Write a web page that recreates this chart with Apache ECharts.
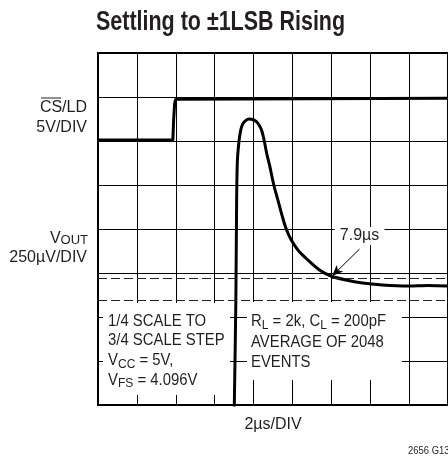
<!DOCTYPE html>
<html><head><meta charset="utf-8">
<script src="https://cdn.jsdelivr.net/npm/echarts@6/dist/echarts.min.js"></script>
<style>html,body{margin:0;padding:0;background:#fff}#c{width:448px;height:462px}</style>
</head><body><div id="c"></div>
<script>
// ---- text ----
const titleText = 'Settling to ±1LSB Rising';
const xAxisName = '2µs/DIV';
const figureId = '2656 G13';
const settleLabel = '7.9µs';

// ---- axes (scope divisions) ----
const xMinUs = 0, xMaxUs = 18, xStepUs = 2;   // 2µs/DIV, 9 divisions
const divCount = 8;                           // vertical divisions

// ---- CS/LD trace (volts, 5V/DIV) ----
const csVoltsPerDiv = 5;
const csZeroDiv = 6;
const csTimeUs = [0, 3.85, 3.89, 3.94, 3.99, 4.09, 18];
const csVolts  = [0.1, 0.1, 2.4, 4.2, 4.75, 4.85, 4.85];

// ---- VOUT trace (µV relative to final value, 250µV/DIV) ----
const voutMicroVPerDiv = 250;
const voutZeroDiv = 2.636;
const voutTimeUs = [6.93, 7.01, 7.09, 7.13, 7.17, 7.26, 7.34, 7.44, 7.59, 7.77, 7.95, 8.13, 8.28, 8.41, 8.54, 8.67, 8.82, 9.04, 9.25, 9.46, 9.68, 9.94, 10.28, 10.79, 11.39, 11.98, 12.75, 13.60, 14.62, 15.95, 16.98, 18.0];
const voutMicroV = [-1199, -659, -62, 506, 733, 847, 903, 937, 957, 966, 963, 952, 932, 903, 847, 773, 705, 591, 506, 420, 341, 278, 222, 165, 108, 74, 51, 34, 23, 17, 20, 17];

// ---- ±1LSB band and settling annotation ----
const lsbBandMicroV = [-62.5, 62.5];
const settleArrowFrom = [13.45, 227];
const settleArrowTo = [12.04, 74];
const settleLabelAt = [13.45, 301];

const FONT = '"Liberation Sans", Arial, sans-serif';
const INK = '#231f20';

const chart = echarts.init(document.getElementById('c'), null, {renderer: 'canvas'});

const subRich = {
  s: {fontSize: 13, fontFamily: FONT, color: INK, verticalAlign: 'bottom', lineHeight: 11}
};

function boxText(x, y, text, lh) {
  return {
    type: 'text', x: x, y: y, z: 5, scaleX: 0.93,
    style: {
      text: text, fontSize: 16, fontFamily: FONT, fill: INK,
      align: 'left', textAlign: 'left', verticalAlign: 'top', textVerticalAlign: 'top',
      lineHeight: lh, rich: subRich
    }
  };
}
function labelText(x, y, text) {
  return {
    type: 'text', x: x, y: y, z: 5,
    style: {
      text: text, fontSize: 16, fontFamily: FONT, fill: INK,
      align: 'right', textAlign: 'right', verticalAlign: 'middle', textVerticalAlign: 'middle',
      rich: subRich
    }
  };
}

const option = {
  animation: false,
  backgroundColor: '#fff',
  grid: {left: 98, top: 53, width: 352, height: 352, show: true, borderColor: '#000', borderWidth: 2, backgroundColor: 'transparent'},
  xAxis: {
    type: 'value', min: xMinUs, max: xMaxUs, interval: xStepUs,
    axisLine: {show: false}, axisTick: {show: false}, axisLabel: {show: false},
    splitLine: {show: true, lineStyle: {color: '#000', width: 1}},
    name: xAxisName, nameLocation: 'middle', nameGap: 12,
    nameTextStyle: {fontSize: 16, fontFamily: FONT, color: INK}
  },
  yAxis: [
    {type: 'value', min: 0, max: divCount, interval: 1,
     axisLine: {show: false}, axisTick: {show: false}, axisLabel: {show: false},
     splitLine: {show: true, lineStyle: {color: '#000', width: 1}}},
    {type: 'value', show: false, splitLine: {show: false},
     min: -voutZeroDiv * voutMicroVPerDiv, max: (divCount - voutZeroDiv) * voutMicroVPerDiv},
    {type: 'value', show: false, splitLine: {show: false},
     min: -csZeroDiv * csVoltsPerDiv, max: (divCount - csZeroDiv) * csVoltsPerDiv}
  ],
  series: [
    {
      name: 'CS/LD', type: 'line', yAxisIndex: 2, showSymbol: false, symbol: 'none', z: 3,
      data: csTimeUs.map((t, i) => [t, csVolts[i]]),
      lineStyle: {color: '#000', width: 3}
    },
    {
      name: 'VOUT', type: 'line', yAxisIndex: 1, showSymbol: false, symbol: 'none', smooth: 0.3, z: 3,
      data: voutTimeUs.map((t, i) => [t, voutMicroV[i]]),
      lineStyle: {color: '#000', width: 3},
      markLine: {
        silent: true, animation: false, symbol: ['none', 'none'],
        label: {show: false}, emphasis: {disabled: true},
        lineStyle: {type: 'solid', color: '#000', width: 1},
        data: lsbBandMicroV.map(v => ({yAxis: v, lineStyle: {type: [9, 4], color: '#222', width: 1}}))
          .concat([[
            {coord: settleArrowFrom, symbol: 'none', lineStyle: {type: 'solid', color: '#000', width: 1}},
            {coord: settleArrowTo, symbol: 'arrow', symbolSize: [7, 11]}
          ]])
      },
      markPoint: {
        silent: true, symbol: 'rect', symbolSize: [50, 18],
        itemStyle: {color: '#fff'},
        label: {show: true, position: 'inside', formatter: settleLabel, color: INK, fontSize: 16, fontFamily: FONT},
        data: [{coord: settleLabelAt}]
      }
    }
  ],
  graphic: [
    // title (condensed bold)
    {type: 'text', x: 96, y: 22.5, z: 5, scaleX: 0.795,
     style: {text: titleText, fontSize: 27, fontWeight: 'bold', fontFamily: FONT, fill: INK,
             align: 'left', textAlign: 'left', verticalAlign: 'middle', textVerticalAlign: 'middle'}},
    // left y labels
    labelText(87, 108, 'CS/LD'),
    {type: 'line', z: 5, shape: {x1: 41, y1: 98, x2: 61, y2: 98}, style: {stroke: INK, lineWidth: 1}},
    labelText(87, 128, '5V/DIV'),
    labelText(88, 239, 'V{s|OUT}'),
    labelText(87, 258, '250µV/DIV'),
    // white boxes under the notes
    {type: 'rect', z: 4, shape: {x: 103, y: 303, width: 127, height: 92}, style: {fill: '#fff'}},
    {type: 'rect', z: 4, shape: {x: 247, y: 302, width: 155, height: 78}, style: {fill: '#fff'}},
    boxText(108, 311.5, '1/4 SCALE TO\n3/4 SCALE STEP\nV{s|CC} = 5V,\nV{s|FS} = 4.096V', 19.7),
    boxText(251, 311.5, 'R{s|L} = 2k, C{s|L} = 200pF\nAVERAGE OF 2048\nEVENTS', 20.5),
    {type: 'text', z: 5, x: 408, y: 451, scaleX: 0.9,
     style: {text: figureId, fontSize: 10.5, fontFamily: FONT, fill: INK, align: 'left', textAlign: 'left', verticalAlign: 'middle', textVerticalAlign: 'middle'}}
  ]
};
chart.setOption(option);
</script>
</body></html>
